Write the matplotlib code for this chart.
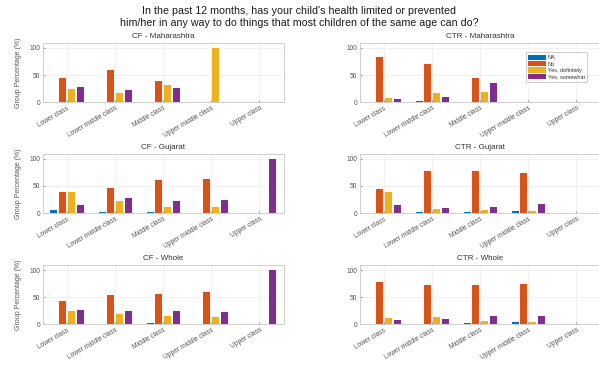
import numpy as np
import matplotlib
matplotlib.use("Agg")
import matplotlib.pyplot as plt

plt.rcParams['font.family'] = ['Liberation Sans', 'DejaVu Sans']

classes = ['Lower class', 'Lower middle class', 'Middle class', 'Upper middle class', 'Upper class']
answers = ['NA', 'No', 'Yes, definitely', 'Yes, somewhat']
colors = ['#0072BD', '#D95319', '#EDB120', '#7E2F8E']

# rows: NA, No, Yes definitely, Yes somewhat ; columns: classes
cf_maharashtra = [[0, 0, 0, 0, 0],
                  [44, 59, 39, 0, 0],
                  [24, 16, 32, 100, 0],
                  [28, 22, 26, 0, 0]]
ctr_maharashtra = [[0, 2, 0, 0, 0],
                   [84, 71, 44, 0, 0],
                   [8, 16, 18, 0, 0],
                   [6, 10, 35, 0, 0]]
cf_gujarat = [[6, 1, 1, 0, 0],
              [38, 47, 61, 62, 0],
              [38, 23, 12, 11, 0],
              [14, 27, 23, 24, 100]]
ctr_gujarat = [[0, 1, 2, 3, 0],
               [45, 77, 77, 74, 0],
               [38, 8, 6, 3, 0],
               [14, 9, 12, 17, 0]]
cf_whole = [[1, 1, 2, 0, 0],
            [43, 53, 56, 60, 0],
            [25, 19.5, 14.5, 12.5, 0],
            [26, 24, 24, 23, 100]]
ctr_whole = [[0, 1, 2, 3, 0],
             [77, 73, 73, 75, 0],
             [12, 12.5, 6, 3, 0],
             [7, 9, 14, 15, 0]]

panels = [('CF - Maharashtra', cf_maharashtra), ('CTR - Maharashtra', ctr_maharashtra),
          ('CF - Gujarat', cf_gujarat), ('CTR - Gujarat', ctr_gujarat),
          ('CF - Whole', cf_whole), ('CTR - Whole', ctr_whole)]

fig = plt.figure(figsize=(5.99, 3.67), dpi=100)
fig.text(0.5, 0.985, "In the past 12 months, has your child's health limited or prevented\n"
         "him/her in any way to do things that most children of the same age can do?",
         ha='center', va='top', fontsize=7.7, color='#1a1a1a', linespacing=1.3)

lefts = [0.0718, 0.601]
bottoms = [0.722, 0.4196, 0.117]
w, h = 0.4015, 0.162

x = np.arange(1, len(classes) + 1)
step = 0.182
offsets = (np.arange(4) - 1.5) * step

for i, (title, vals) in enumerate(panels):
    ax = fig.add_axes([lefts[i % 2], bottoms[i // 2], w, h])
    vals = np.array(vals, dtype=float)
    for k in range(4):
        ax.bar(x + offsets[k], vals[k], width=step * 0.8, color=colors[k],
               edgecolor='none', label=answers[k], zorder=3)
    ax.set_xlim(0.5, 5.5)
    ax.set_ylim(0, 110)
    ax.set_yticks([0, 50, 100])
    ax.set_xticks(x)
    ax.set_xticklabels(classes, rotation=30, ha='right', rotation_mode='anchor')
    ax.tick_params(axis='both', labelsize=4.8, colors='#555555', length=1.5,
                   width=0.4, direction='in', pad=2)
    ax.grid(True, color='#ececec', linewidth=0.5, zorder=0)
    for s in ax.spines.values():
        s.set_color('#c8c8c8')
        s.set_linewidth(0.6)
    ax.set_title(title, fontsize=5.8, color='#333333', pad=3)
    if i % 2 == 0:
        ax.set_ylabel('Group Percentage (%)', fontsize=5, color='#555555', labelpad=5)
    if i == 1:
        leg = ax.legend(loc='upper right', bbox_to_anchor=(0.955, 0.88), fontsize=4,
                        frameon=True, fancybox=False, handlelength=3.2, handleheight=1.1,
                        handletextpad=0.3, borderpad=0.4, labelspacing=0.15)
        leg.get_frame().set_edgecolor('#aaaaaa')
        leg.get_frame().set_linewidth(0.5)
        for t in leg.get_texts():
            t.set_color('#333333')

fig.savefig('out.png', dpi=100)
